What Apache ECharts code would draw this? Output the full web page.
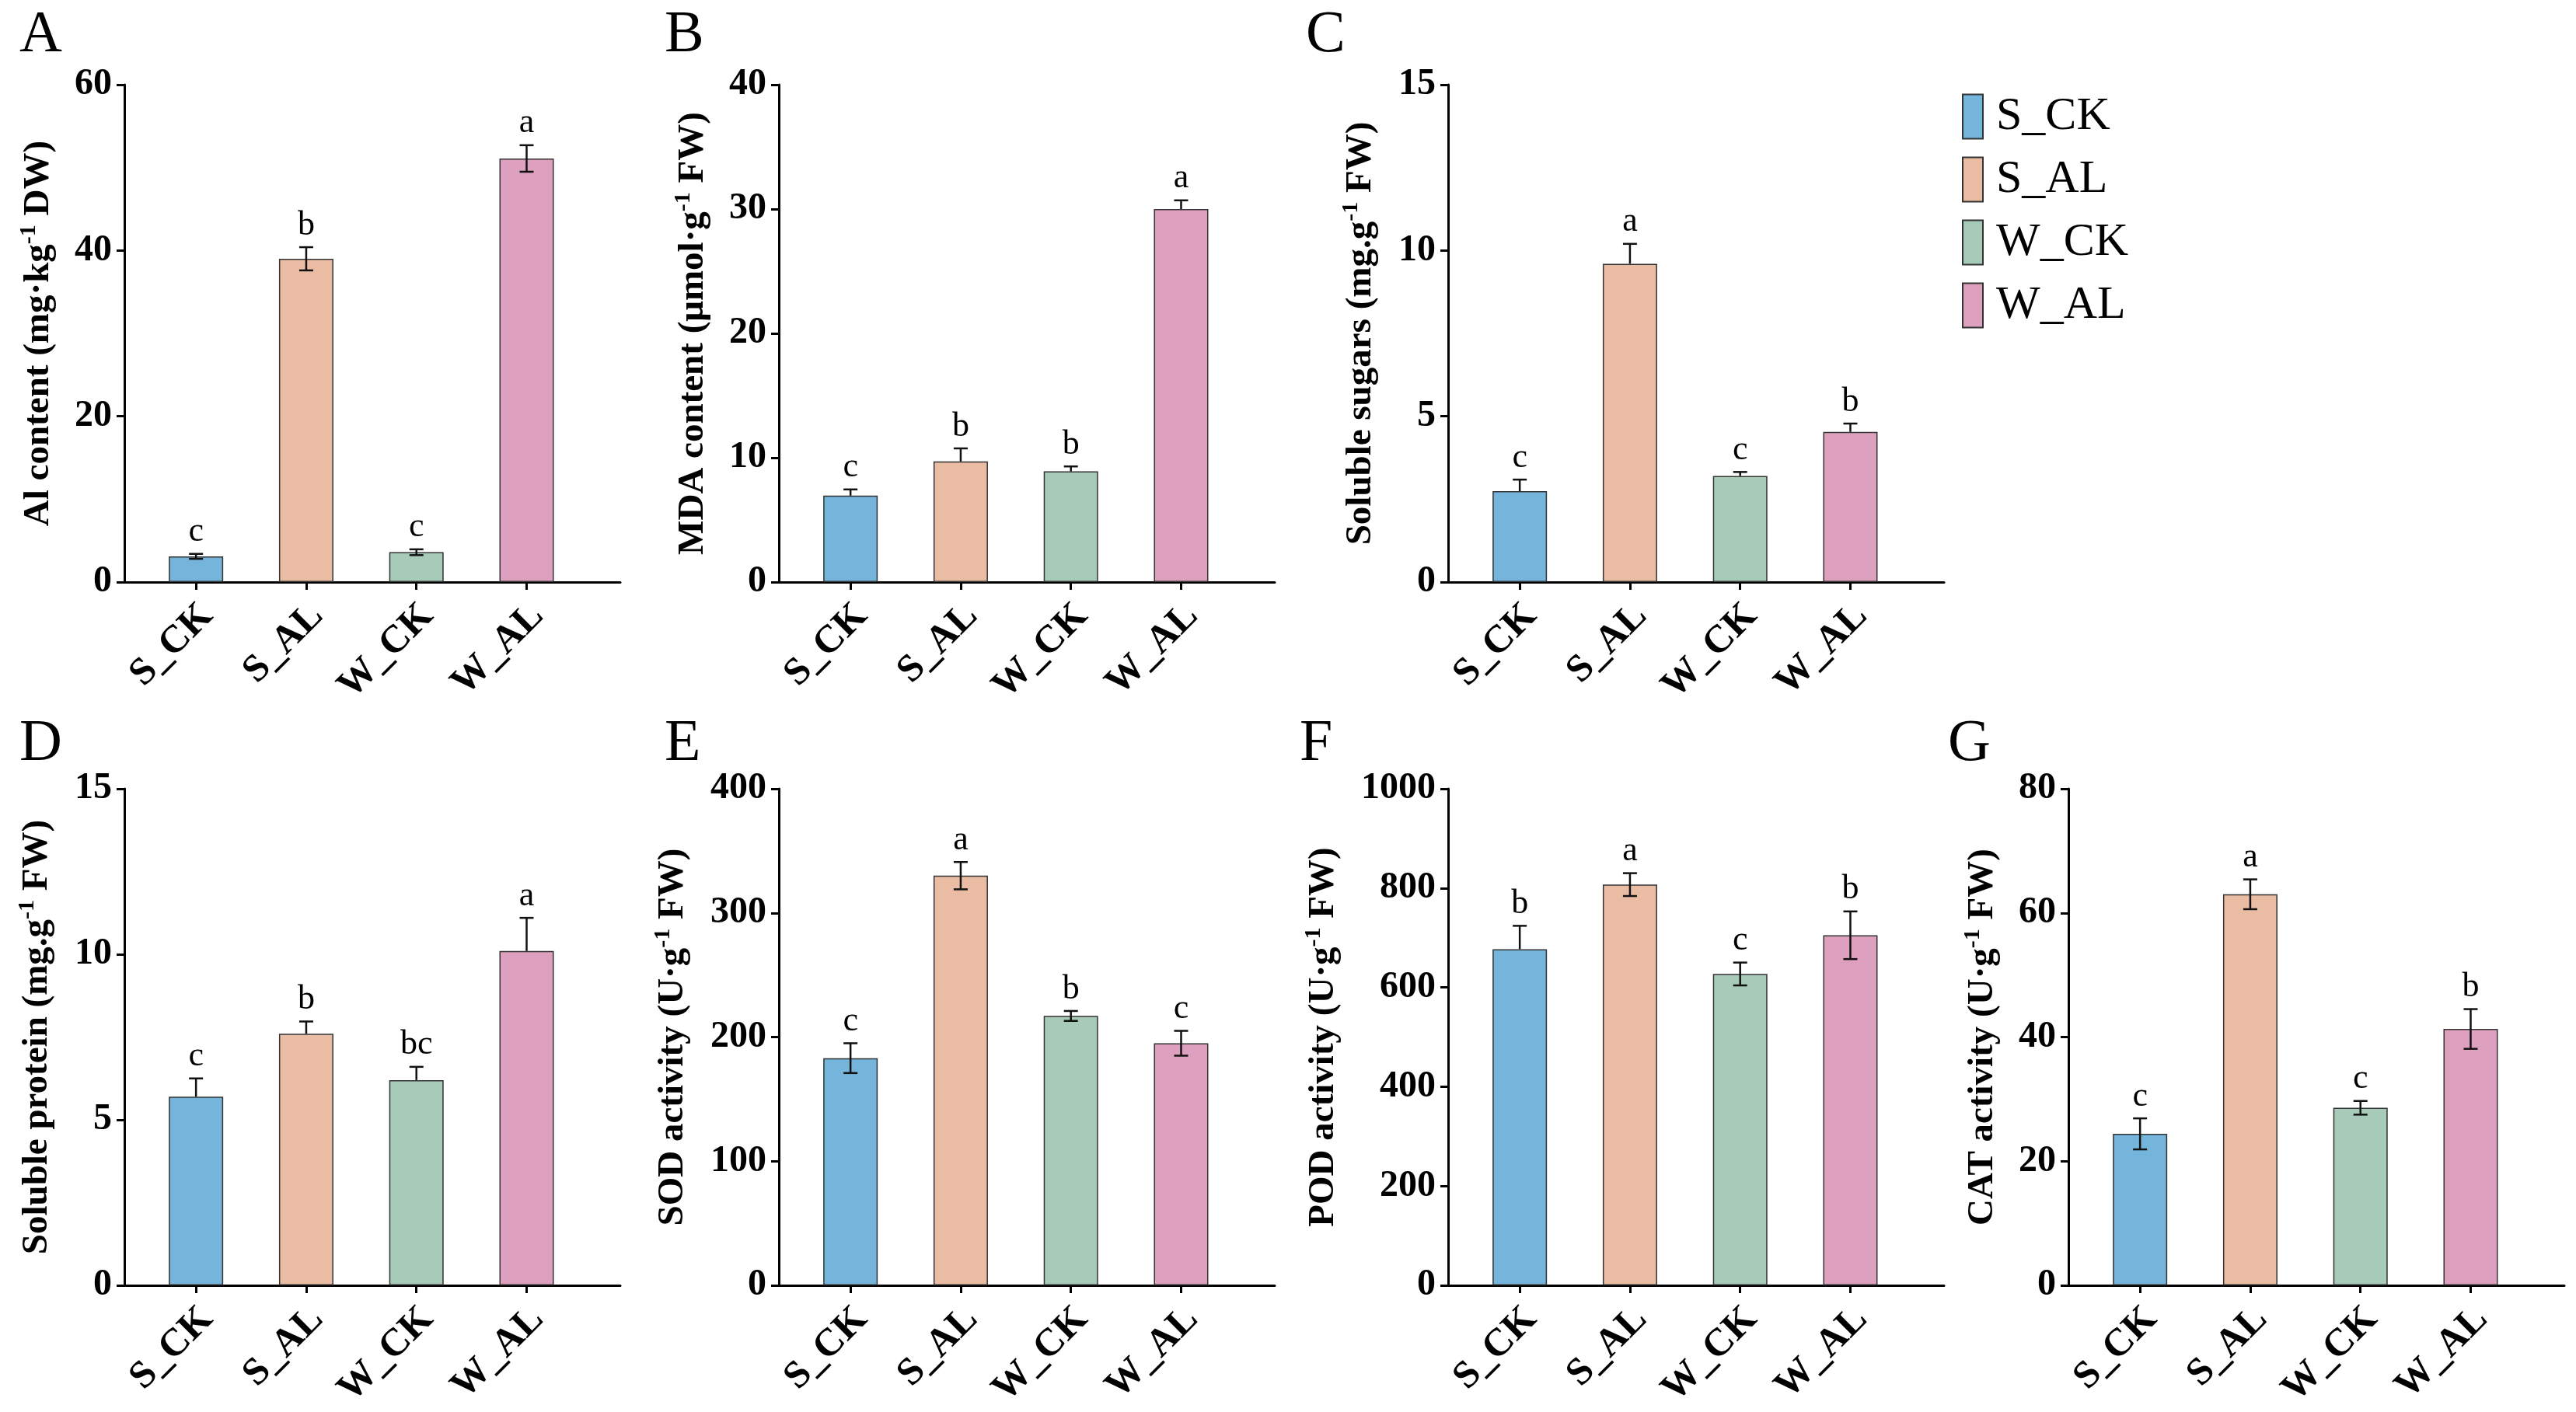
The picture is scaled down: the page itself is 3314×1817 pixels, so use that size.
<!DOCTYPE html>
<html lang="en">
<head>
  <meta charset="UTF-8">
  <title>Al stress physiology</title>
  <script src="https://cdn.jsdelivr.net/npm/echarts@6/dist/echarts.min.js"></script>
  <style>
    html, body { margin: 0; padding: 0; background: #fff; }
    #main { width: 3314px; height: 1817px; }
  </style>
</head>
<body>
  <div id="main"></div>
</body>
</html>
<script>
  // groups (x categories)
  var groups = ['S_CK', 'S_AL', 'W_CK', 'W_AL']
  var groupColors = ['#76B5DB', '#EABCA3', '#A7CBB8', '#DEA0BF']

  // A  Al content
  var alMean = [3.1, 39.0, 3.6, 51.1]
  var alSd = [0.3, 1.4, 0.35, 1.6]
  var alSig = ['c', 'b', 'c', 'a']
  // B  MDA content
  var mdaMean = [6.95, 9.7, 8.9, 30.0]
  var mdaSd = [0.5, 1.05, 0.4, 0.7]
  var mdaSig = ['c', 'b', 'b', 'a']
  // C  soluble sugars
  var sugarMean = [2.74, 9.6, 3.2, 4.53]
  var sugarSd = [0.35, 0.6, 0.12, 0.25]
  var sugarSig = ['c', 'a', 'c', 'b']
  // D  soluble protein
  var proteinMean = [5.7, 7.6, 6.2, 10.1]
  var proteinSd = [0.55, 0.37, 0.4, 1.0]
  var proteinSig = ['c', 'b', 'bc', 'a']
  // E  SOD
  var sodMean = [183, 330, 217, 195]
  var sodSd = [12, 11, 4, 10]
  var sodSig = ['c', 'a', 'b', 'c']
  // F  POD
  var podMean = [677, 807, 627, 705]
  var podSd = [47, 23, 23, 48]
  var podSig = ['b', 'a', 'c', 'b']
  // G  CAT
  var catMean = [24.4, 63.0, 28.6, 41.3]
  var catSd = [2.5, 2.4, 1.1, 3.2]
  var catSig = ['c', 'a', 'c', 'b']

  // y-axis ticks [max, interval]
  var alTicks = [60, 20]
  var mdaTicks = [40, 10]
  var sugarTicks = [15, 5]
  var proteinTicks = [15, 5]
  var sodTicks = [400, 100]
  var podTicks = [1000, 200]
  var catTicks = [80, 20]

  var FONT = '"Liberation Serif", "Times New Roman", serif'

  // panel layout (pixels) + which error bars are drawn on both sides
  var panels = [
    { tag: 'A', left: 160, top: 109, h: 640, mean: alMean, sd: alSd, sig: alSig, ticks: alTicks,
      name: '{n|Al content (mg·kg}{sup|-1}{n| DW)}', gap: 82, both: [1, 1, 1, 1], tx: 25, ty: 8 },
    { tag: 'B', left: 1002, top: 109, h: 640, mean: mdaMean, sd: mdaSd, sig: mdaSig, ticks: mdaTicks,
      name: '{n|MDA content (μmol·g}{sup|-1}{n| FW)}', gap: 82, both: [0, 0, 0, 0], tx: 855, ty: 8 },
    { tag: 'C', left: 1863, top: 109, h: 640, mean: sugarMean, sd: sugarSd, sig: sugarSig, ticks: sugarTicks,
      name: '{n|Soluble sugars (mg.g}{sup|-1}{n| FW)}', gap: 84, both: [0, 0, 0, 0], tx: 1680, ty: 8 },
    { tag: 'D', left: 160, top: 1015, h: 639, mean: proteinMean, sd: proteinSd, sig: proteinSig, ticks: proteinTicks,
      name: '{n|Soluble protein (mg.g}{sup|-1}{n| FW)}', gap: 84, both: [0, 0, 0, 0], tx: 25, ty: 920 },
    { tag: 'E', left: 1002, top: 1015, h: 639, mean: sodMean, sd: sodSd, sig: sodSig, ticks: sodTicks,
      name: '{n|SOD activity (U·g}{sup|-1}{n| FW)}', gap: 108, both: [1, 1, 1, 1], tx: 855, ty: 920 },
    { tag: 'F', left: 1863, top: 1015, h: 639, mean: podMean, sd: podSd, sig: podSig, ticks: podTicks,
      name: '{n|POD activity (U·g}{sup|-1}{n| FW)}', gap: 132, both: [0, 1, 1, 1], tx: 1672, ty: 920 },
    { tag: 'G', left: 2661, top: 1015, h: 639, mean: catMean, sd: catSd, sig: catSig, ticks: catTicks,
      name: '{n|CAT activity (U·g}{sup|-1}{n| FW)}', gap: 82, both: [1, 1, 1, 1], tx: 2506, ty: 920 }
  ]

  var chart = echarts.init(document.getElementById('main'))

  var grid = [], xAxis = [], yAxis = [], series = [], title = []

  panels.forEach(function (p, k) {
    grid.push({ left: p.left, top: p.top, width: 638, height: p.h, containLabel: false })

    xAxis.push({
      type: 'value', gridIndex: k, min: -0.65, max: 3.85,
      splitLine: { show: false },
      axisLine: { show: true, onZero: false, lineStyle: { color: '#000', width: 3 } },
      axisTick: { show: true, length: 10, customValues: [0, 1, 2, 3], lineStyle: { color: '#000', width: 3 } },
      axisLabel: {
        // labels sit a little right of the ticks, as in the original
        customValues: [0.1, 1.1, 2.1, 3.1], rotate: 45, margin: 36,
        formatter: function (v) { return groups[Math.round(v)] },
        fontFamily: FONT, fontWeight: 'bold', fontSize: 50, color: '#000'
      }
    })

    yAxis.push({
      type: 'value', gridIndex: k, min: 0, max: p.ticks[0], interval: p.ticks[1],
      splitLine: { show: false },
      axisLine: { show: true, onZero: false, lineStyle: { color: '#000', width: 3 } },
      axisTick: { show: true, length: 10, lineStyle: { color: '#000', width: 3 } },
      axisLabel: {
        margin: 16, fontFamily: FONT, fontWeight: 'bold', fontSize: 48, color: '#000',
        formatter: function (v) { return String(v) }
      },
      name: p.name, nameLocation: 'middle', nameRotate: 90, nameGap: p.gap,
      nameTextStyle: {
        rich: {
          n: { fontFamily: FONT, fontWeight: 'bold', fontSize: 47, lineHeight: 56, color: '#000' },
          sup: { fontFamily: FONT, fontWeight: 'bold', fontSize: 30, verticalAlign: 'top', color: '#000' }
        }
      }
    })

    // one bar series per group, so the legend picks them up
    groups.forEach(function (g, i) {
      series.push({
        name: g, type: 'bar', xAxisIndex: k, yAxisIndex: k,
        barWidth: 70, barGap: '-100%',
        itemStyle: { color: groupColors[i], borderColor: '#333', borderWidth: 1.5 },
        data: [[i, p.mean[i]]]
      })
    })

    // error bars + significance letters
    series.push({
      type: 'custom', xAxisIndex: k, yAxisIndex: k, z: 5, silent: true,
      data: p.mean.map(function (m, i) { return [i, m, p.sd[i], p.both[i]] }),
      renderItem: function (params, api) {
        var x = api.value(0), m = api.value(1), s = api.value(2), both = api.value(3)
        var top = api.coord([x, m + s])
        var mid = api.coord([x, m])
        var bot = api.coord([x, m - s])
        var cap = 9
        var st = { stroke: '#111', lineWidth: 2.5 }
        var kids = [
          { type: 'line', shape: { x1: top[0], y1: top[1], x2: top[0], y2: both ? bot[1] : mid[1] }, style: st },
          { type: 'line', shape: { x1: top[0] - cap, y1: top[1], x2: top[0] + cap, y2: top[1] }, style: st },
          { type: 'text', x: top[0], y: top[1] - 6,
            style: { text: p.sig[params.dataIndex], fontFamily: FONT, fontSize: 44, fill: '#000',
                     align: 'center', verticalAlign: 'bottom' } }
        ]
        if (both) {
          kids.push({ type: 'line', shape: { x1: bot[0] - cap, y1: bot[1], x2: bot[0] + cap, y2: bot[1] }, style: st })
        }
        return { type: 'group', children: kids }
      }
    })

    title.push({
      text: p.tag, left: p.tx, top: p.ty, padding: 0,
      textStyle: { fontFamily: FONT, fontWeight: 'normal', fontSize: 76, color: '#000' }
    })
  })

  chart.setOption({
    backgroundColor: '#fff',
    animation: false,
    title: title,
    legend: {
      data: groups, orient: 'vertical', left: 2524, top: 120, padding: 0,
      icon: 'rect', itemWidth: 26, itemHeight: 57, itemGap: 21,
      itemStyle: { borderColor: '#333', borderWidth: 2 },
      textStyle: { fontFamily: FONT, fontSize: 60, color: '#000', padding: [0, 0, 0, 12] }
    },
    grid: grid,
    xAxis: xAxis,
    yAxis: yAxis,
    series: series
  })
</script>
